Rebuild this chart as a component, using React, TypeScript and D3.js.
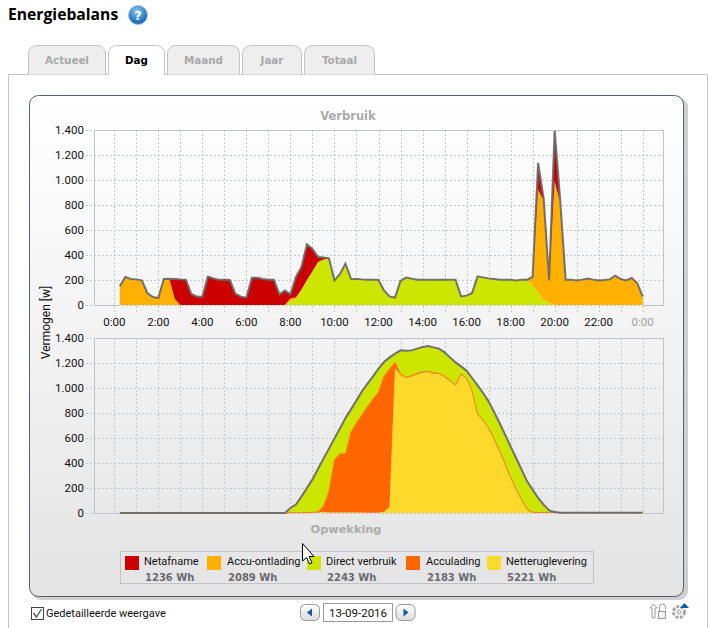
import React from "react";
import * as d3 from "d3";

// quarter hours from 0:15 to 24:00
const hours = d3.range(1, 97).map((n) => n / 4);
const xTicks = d3.range(0, 25);
const xLabels = ["0:00", "2:00", "4:00", "6:00", "8:00", "10:00", "12:00", "14:00", "16:00", "18:00", "20:00", "22:00", "0:00"];
const yTicks = [0, 200, 400, 600, 800, 1000, 1200, 1400];

const directVerbruik = [
  0, 0, 0, 0, 0, 0, 0, 0, 0, 0, 0, 0, 0, 0, 0, 0, 0, 0, 0, 0, 0, 0, 0, 0, 0, 0, 0, 0, 0, 0, 0,
  30, 55, 125, 200, 270, 345, 365, 373,
  197, 248, 330, 210, 208, 205, 203, 203, 200, 117, 69, 59, 192, 219, 211, 203, 203, 203,
  203, 203, 203, 203, 203, 69, 75, 96, 229, 221, 213, 208, 203, 203, 203, 197, 203, 203,
  157, 101, 43, 16, 0,
  0, 0, 0, 0, 0, 0, 0, 0, 0, 0, 0, 0, 0, 0, 0, 0,
];
const accuOntlading = [
  150, 225, 208, 205, 197, 96, 64, 56, 208, 210, 48,
  0, 0, 0, 0, 0, 0, 0, 0, 0, 0,
  0, 0, 0, 0, 0, 0, 0, 0, 0, 0,
  25, 5,
  0, 0, 0, 0, 0, 0, 0, 0, 0, 0,
  0, 0, 0, 0, 0, 0, 0, 0, 0, 0,
  0, 0, 0, 0, 0, 0, 0, 0, 0, 0,
  0, 0, 0, 0, 0, 0, 0, 0, 0, 0,
  0, 0,
  67, 821, 793, 181, 989, 823,
  203, 203, 197, 203, 211, 203, 197, 200, 205, 235, 208, 197, 216, 176, 67,
];
const netafname = [
  0, 0, 0, 0, 0, 0, 0, 0, 0, 0, 160,
  205, 203, 88, 67, 67, 227, 213, 203, 203, 200, 90, 67, 59, 218, 218, 208, 203, 203, 85, 117,
  30, 164, 179, 285, 178, 39, 16,
  0, 0, 0, 0, 0, 0, 0, 0, 0, 0,
  0, 0, 0, 0, 0, 0, 0, 0, 0, 0,
  0, 0, 0, 0, 0, 0, 0, 0, 0, 0,
  0, 0, 0, 0, 0, 0, 0, 0,
  214, 20, 0, 411, 20,
  0, 0, 0, 0, 0, 0, 0, 0, 0, 0, 0, 0, 0, 0, 0,
];

const netteruglevering = [
  0, 0, 0, 0, 0, 0, 0, 0, 0, 0, 0, 0, 0, 0, 0, 0, 0, 0, 0, 0, 0, 0, 0, 0, 0, 0, 0, 0, 0, 0, 0,
  0, 0, 0, 0, 0, 5, 10, 5, 4, 4, 4, 4, 5, 4, 3, 3, 3, 10, 50,
  1160, 1107, 1080, 1093, 1109, 1125, 1128, 1115, 1112, 1088, 1056, 1019, 1109, 1072, 973,
  787, 739, 675, 587, 493, 387, 280, 187, 101, 27, 2,
  0, 0, 0, 0, 0, 0, 0, 0, 0, 0, 0, 0, 0, 0, 0, 0, 0, 0, 0, 0,
];
const acculading = [
  0, 0, 0, 0, 0, 0, 0, 0, 0, 0, 0, 0, 0, 0, 0, 0, 0, 0, 0, 0, 0, 0, 0, 0, 0, 0, 0, 0, 0, 0, 0,
  3, 3, 3, 3, 5, 5, 43, 168, 423, 471, 468, 644, 715, 783, 850, 909, 965, 1083, 1102,
  45, 6, 6, 6, 6, 6, 6, 6, 6, 6, 6, 6, 6, 6, 6,
  6, 6, 6, 6, 6, 6, 6, 6, 6, 6, 4,
  4, 5, 5, 5, 3, 3, 3, 3, 3, 3, 3, 3, 3, 3, 3, 3, 3, 3, 3, 3,
];
const directOpwekking = [
  0, 0, 0, 0, 0, 0, 0, 0, 0, 0, 0, 0, 0, 0, 0, 0, 0, 0, 0, 0, 0, 0, 0, 0, 0, 0, 0, 0, 0, 0, 0,
  37, 64, 128, 197, 264, 342, 382, 342, 170, 202, 288, 181, 181, 186, 182, 181, 187, 115, 93,
  70, 188, 213, 202, 200, 197, 202, 204, 197, 191, 183, 180, 58, 61, 101,
  228, 215, 212, 215, 221, 234, 247, 247, 240, 220, 181,
  116, 62, 16, 3, 0, 0, 0, 0, 0, 0, 0, 0, 0, 0, 0, 0, 0, 0, 0, 0,
];

const legendNames = ["Netafname", "Accu-ontlading", "Direct verbruik", "Acculading", "Netteruglevering"];
const legendValues = ["1236 Wh", "2089 Wh", "2243 Wh", "2183 Wh", "5221 Wh"];
const legendColors = ["#cc0000", "#ffb000", "#cce600", "#ff6600", "#fcd92a"];
const legendSwatchX = [125, 207, 307, 406, 487];
const legendLabelX = [144, 227, 326, 426, 506];

const tabNames = ["Actueel", "Dag", "Maand", "Jaar", "Totaal"];
const tabEdges: [number, number][] = [[28.5, 105.5], [108.5, 164.5], [167.5, 239.5], [242.5, 301.5], [304.5, 374.5]];

const UI_FONT = "Roboto, sans-serif";
const BOLD_FONT = "'DejaVu Sans', sans-serif";

const x = d3.scaleLinear().domain([0, 24]).range([114.3, 642.7]);
const plotLeft = 94.5;
const plotRight = 663.5;

function buildStack(keys: string[], columns: number[][]) {
  const rows = hours.map((h, i) => {
    const row: Record<string, number> = { h };
    keys.forEach((k, j) => (row[k] = columns[j][i]));
    return row;
  });
  return d3.stack<Record<string, number>>().keys(keys)(rows);
}

function StackedPlot({ id, top, bottom, keys, columns, colors, thinLine, tickLen }: {
  id: string; top: number; bottom: number; keys: string[]; columns: number[][]; colors: string[]; thinLine?: number; tickLen: number;
}) {
  const y = d3.scaleLinear().domain([0, 1400]).range([bottom, top]);
  const layers = buildStack(keys, columns);
  const area = d3.area<any>().x((d) => x(d.data.h)).y0((d) => y(d[0])).y1((d) => y(d[1]));
  const line = d3.line<any>().x((d) => x(d.data.h)).y((d) => y(d[1]));
  return (
    <g>
      <clipPath id={id}>
        <rect x={plotLeft} y={top} width={plotRight - plotLeft} height={bottom - top + 2} />
      </clipPath>
      {yTicks.map((t) => (
        <line key={t} x1={86} x2={plotRight} y1={Math.round(y(t)) + 0.5} y2={Math.round(y(t)) + 0.5}
          stroke="#c0c8d0" strokeDasharray="2,2" />
      ))}
      {xTicks.map((t) => (
        <line key={t} x1={Math.round(x(t)) + 0.5} x2={Math.round(x(t)) + 0.5} y1={top} y2={bottom + tickLen}
          stroke="#c0c8d0" strokeDasharray="2,2" />
      ))}
      <g clipPath={`url(#${id})`}>
        {layers.map((l, i) => <path key={l.key} d={area(l) ?? ""} fill={colors[i]} />)}
        {thinLine !== undefined && (
          <path d={line(layers[thinLine]) ?? ""} fill="none" stroke="#ff7a10" strokeWidth={1} />
        )}
        <path d={line(layers[layers.length - 1]) ?? ""} fill="none" stroke="#6a6a6a" strokeWidth={2} strokeOpacity={0.95} />
      </g>
      <path d={`M${plotLeft},${bottom + 0.5}V${top + 0.5}H${plotRight}V${bottom + 0.5}`} fill="none" stroke="#c0c4c8" />
      <line x1={plotLeft} x2={x(0.25)} y1={bottom + 0.5} y2={bottom + 0.5} stroke="#c0c4c8" />
      <line x1={x(24)} x2={plotRight} y1={bottom + 0.5} y2={bottom + 0.5} stroke="#c0c4c8" />
      {yTicks.map((t) => (
        <text key={t} x={84} y={y(t) + 4} textAnchor="end" fontFamily={UI_FONT} fontSize={11.5} fill="#111">
          {d3.format(",")(t).replace(",", ".")}
        </text>
      ))}
    </g>
  );
}

function RoundButton({ cx, dir }: { cx: number; dir: number }) {
  return (
    <g>
      <rect x={cx - 9.5} y={604.5} width={19} height={16} rx={5} fill="url(#btn)" stroke="#9a9a9a" />
      <path d={`M${cx + dir * 3},612.5L${cx - dir * 2},608.5V616.5Z`} fill="#0b5cad" />
    </g>
  );
}

export default function App() {
  return (
    <svg width={708} height={628} viewBox="0 0 708 628"
      style={{ position: "fixed", left: 0, top: 0, background: "#fff" }}>
      <defs>
        <linearGradient id="panel" x1="0" y1="0" x2="0" y2="1">
          <stop offset="0" stopColor="#ffffff" />
          <stop offset="0.45" stopColor="#f4f4f4" />
          <stop offset="0.85" stopColor="#e8e8e8" />
          <stop offset="1" stopColor="#e4e4e4" />
        </linearGradient>
        <radialGradient id="help" cx="0.45" cy="0.3" r="0.8">
          <stop offset="0" stopColor="#8cc4ee" />
          <stop offset="0.6" stopColor="#2f7fc8" />
          <stop offset="1" stopColor="#0f4f98" />
        </radialGradient>
        <linearGradient id="btn" x1="0" y1="0" x2="0" y2="1">
          <stop offset="0" stopColor="#ffffff" />
          <stop offset="1" stopColor="#dcdcdc" />
        </linearGradient>
      </defs>

      <text x={8} y={20} fontFamily="'Open Sans', sans-serif" fontWeight={700} fontSize={15.7} fill="#000">Energiebalans</text>
      <circle cx={138} cy={15} r={9.5} fill="url(#help)" stroke="#9fc3e0" />
      <text x={138} y={20} textAnchor="middle" fontFamily={BOLD_FONT} fontWeight={700} fontSize={13} fill="#fff">?</text>

      <path d="M8.5,628V74.5H707.5V628" fill="none" stroke="#c4c4c4" />
      {tabNames.map((name, i) => {
        const [a, b] = tabEdges[i];
        const active = name === "Dag";
        return (
          <g key={name}>
            <path d={`M${a},${active ? 75 : 74.5}V54a8,8 0 0 1 8,-8.5H${b - 8}a8,8 0 0 1 8,8.5V${active ? 75 : 74.5}`}
              fill={active ? "#fff" : "#eeeeee"} stroke="#c4c4c4" />
            <text x={(a + b) / 2} y={64} textAnchor="middle" fontFamily={BOLD_FONT} fontWeight={700} fontSize={10.3}
              fill={active ? "#000" : "#a8a8a8"}>{name}</text>
          </g>
        );
      })}

      <rect x={32} y={98} width={656} height={502} rx={9} fill="#cfcfcf" />
      <rect x={29.5} y={95.5} width={654} height={501} rx={9} fill="url(#panel)" stroke="#56616e" />

      <text x={348} y={120} textAnchor="middle" fontFamily={BOLD_FONT} fontWeight={700} fontSize={11.5} fill="#ababab">Verbruik</text>
      <StackedPlot id="clipTop" top={130} bottom={305} keys={["direct", "accu", "net"]} tickLen={7}
        columns={[directVerbruik, accuOntlading, netafname]} colors={["#cce600", "#ffb000", "#cc0000"]} />
      {xLabels.map((label, i) => (
        <text key={i} x={x(i * 2)} y={326} textAnchor="middle" fontFamily={UI_FONT} fontSize={11.5}
          fill={i === xLabels.length - 1 ? "#a0a0a0" : "#111"}>{label}</text>
      ))}
      <text transform="translate(50,322.5) rotate(-90)" textAnchor="middle" fontFamily={UI_FONT} fontSize={12} fill="#111">Vermogen [w]</text>

      <StackedPlot id="clipBottom" top={338} bottom={513} keys={["terug", "lading", "direct"]} tickLen={0}
        columns={[netteruglevering, acculading, directOpwekking]} colors={["#fcd92a", "#ff6600", "#cce600"]} thinLine={1} />
      <text x={346} y={533} textAnchor="middle" fontFamily={BOLD_FONT} fontWeight={700} fontSize={11.3} fill="#ababab">Opwekking</text>

      <rect x={120.5} y={551.5} width={473} height={32} fill="none" stroke="#c0c4c8" />
      {legendNames.map((name, i) => (
        <g key={name}>
          <rect x={legendSwatchX[i]} y={556} width={14} height={14} fill={legendColors[i]} />
          <text x={legendLabelX[i]} y={565} fontFamily={UI_FONT} fontSize={11} fill="#111">{name}</text>
          <text x={legendLabelX[i] + 1} y={581} fontFamily={BOLD_FONT} fontWeight={700} fontSize={10} fill="#6a6a70">{legendValues[i]}</text>
        </g>
      ))}

      <path d="M302.5,543.5V561l4,-3.5l3,6.5l2.5,-1l-3,-6.5h5Z" fill="#fff" stroke="#000" />

      <rect x={31.5} y={607.5} width={12} height={12} fill="#fff" stroke="#444" />
      <path d="M33.5,613l3,4l5,-8" fill="none" stroke="#555" strokeWidth={1.3} />
      <text x={46} y={617} fontFamily={UI_FONT} fontSize={11} fill="#111">Gedetailleerde weergave</text>

      <RoundButton cx={310} dir={-1} />
      <rect x={323.5} y={603.5} width={69} height={18} fill="#fff" stroke="#9a9a9a" />
      <text x={358} y={617} textAnchor="middle" fontFamily={UI_FONT} fontSize={11.5} fill="#111">13-09-2016</text>
      <RoundButton cx={405.5} dir={1} />

      <path d="M653.5,604l-3.5,4h2v10h3v-10h2Z" fill="#fff" stroke="#999" />
      <path d="M659.5,611v-4a3,3 0 0 1 6,0v2" fill="none" stroke="#999" />
      <rect x={658.5} y={611.5} width={7} height={7} fill="#f4f4f4" stroke="#999" />
      <circle cx={679} cy={612} r={5.5} fill="none" stroke="#a4a4a4" strokeWidth={3} strokeDasharray="3,1.5" />
      <circle cx={679} cy={612} r={2} fill="#e8e8e8" stroke="#a4a4a4" />
      <path d="M680,608l4.5,-5l4.5,5Z" fill="#0b5cad" />
    </svg>
  );
}
